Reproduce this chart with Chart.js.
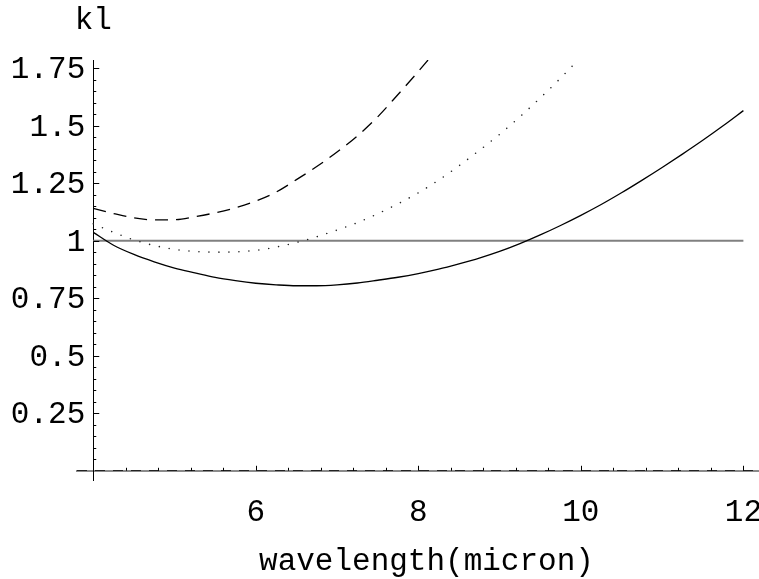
<!DOCTYPE html>
<html>
<head>
<meta charset="utf-8">
<script src="https://cdn.jsdelivr.net/npm/chart.js@4.4.1/dist/chart.umd.min.js"></script>
<style>
html, body { margin: 0; padding: 0; background: #ffffff; }
canvas { display: block; }
</style>
</head>
<body>
<canvas id="chart" width="759" height="579"></canvas>
<script>
// ---- data ----
const wavelength = [4.0, 4.25, 4.5, 4.75, 5.0, 5.25, 5.5, 5.75, 6.0, 6.25, 6.5, 6.75, 7.0, 7.25, 7.5, 7.75,
                    8.0, 8.25, 8.5, 8.75, 9.0, 9.25, 9.5, 9.75, 10.0, 10.25, 10.5, 10.75, 11.0, 11.25, 11.5, 11.75, 12.0];
const klSolid  = [1.036, 0.980, 0.940, 0.908, 0.881, 0.860, 0.840, 0.826, 0.815, 0.808, 0.804, 0.804, 0.808, 0.816, 0.828, 0.841,
                  0.857, 0.876, 0.899, 0.924, 0.953, 0.987, 1.025, 1.066, 1.110, 1.157, 1.208, 1.262, 1.318, 1.376, 1.436, 1.499, 1.565];
const klDashed = [1.140, 1.118, 1.099, 1.090, 1.091, 1.104, 1.121, 1.143, 1.172, 1.211, 1.265, 1.322, 1.385, 1.455, 1.538, 1.635,
                  1.735, 1.840];
const klDotted = [1.073, 1.036, 1.003, 0.979, 0.962, 0.953, 0.950, 0.951, 0.958, 0.972, 0.992, 1.017, 1.046, 1.078, 1.117, 1.160,
                  1.208, 1.263, 1.325, 1.392, 1.462, 1.538, 1.620, 1.706, 1.797];
const referenceWavelength = [4, 12];
const klReference = [1, 1];

const xTickValues = [6, 8, 10, 12];
const xTickLabels = ['6', '8', '10', '12'];
const yTickValues = [0, 0.25, 0.5, 0.75, 1, 1.25, 1.5, 1.75];
const yTickLabels = ['', '0.25', '0.5', '0.75', '1', '1.25', '1.5', '1.75'];
const xAxisTitle = 'wavelength(micron)';
const yAxisTitle = 'kl';

// ---- helpers ----
const toPoints = (xs, ys) => ys.map((y, i) => ({ x: xs[i], y: y }));
const FONT_FAMILY = '"Liberation Mono", "DejaVu Sans Mono", monospace';
const FONT_SIZE = 31;

// Plugin: inward minor/major tick marks (Mathematica style), y tick labels and axis titles.
const axisDecor = {
  id: 'axisDecor',
  afterDraw(chart) {
    const { ctx, chartArea } = chart;
    const xs = chart.scales.x, ys = chart.scales.y;
    const x0 = xs.getPixelForValue(4);
    const y0 = ys.getPixelForValue(0);
    ctx.save();
    ctx.strokeStyle = '#000';
    ctx.lineWidth = 1;
    ctx.beginPath();
    // y-axis ticks every 0.05, major every 0.25
    for (let k = 1; k * 0.05 <= ys.max + 1e-9; k++) {
      const py = Math.round(ys.getPixelForValue(k * 0.05)) + 0.5;
      const len = (k % 5 === 0) ? 6 : 3;
      ctx.moveTo(x0, py);
      ctx.lineTo(x0 + len, py);
    }
    // x-axis ticks every 0.4, major every 2
    for (let k = 1; 4 + k * 0.4 <= xs.max + 1e-9; k++) {
      const px = Math.round(xs.getPixelForValue(4 + k * 0.4)) + 0.5;
      const len = (k % 5 === 0) ? 5 : 3;
      ctx.moveTo(px, y0);
      ctx.lineTo(px, y0 - len);
    }
    ctx.stroke();

    ctx.fillStyle = '#000';
    ctx.font = FONT_SIZE + 'px ' + FONT_FAMILY;
    // y tick labels, right aligned left of the axis
    ctx.textAlign = 'right';
    ctx.textBaseline = 'middle';
    yTickValues.forEach((v, i) => {
      if (!yTickLabels[i]) return;
      ctx.fillText(yTickLabels[i], x0 - 8, ys.getPixelForValue(v) + 2);
    });
    // axis titles
    ctx.textAlign = 'center';
    ctx.textBaseline = 'alphabetic';
    ctx.fillText(yAxisTitle, x0, chartArea.top - 31);
    ctx.fillText(xAxisTitle, xs.getPixelForValue(8.1), y0 + 99);
    ctx.restore();
  }
};

new Chart(document.getElementById('chart'), {
  type: 'line',
  data: {
    datasets: [
      { label: 'solid', data: toPoints(wavelength, klSolid), borderColor: '#000', borderWidth: 1.3,
        pointRadius: 0, cubicInterpolationMode: 'monotone', fill: false },
      { label: 'dashed', data: toPoints(wavelength, klDashed), borderColor: '#000', borderWidth: 1.3,
        borderDash: [13, 8], pointRadius: 0, cubicInterpolationMode: 'monotone', fill: false },
      { label: 'dotted', data: toPoints(wavelength, klDotted), borderColor: '#222', borderWidth: 1.6,
        borderDash: [0, 10], borderCapStyle: 'round', pointRadius: 0, cubicInterpolationMode: 'monotone', fill: false },
      { label: 'reference', data: toPoints(referenceWavelength, klReference), borderColor: '#808080', borderWidth: 2,
        pointRadius: 0, fill: false }
    ]
  },
  options: {
    responsive: false,
    animation: false,
    devicePixelRatio: 1,
    layout: { padding: { left: 77, right: 0, top: 60, bottom: 99 } },
    plugins: { legend: { display: false }, tooltip: { enabled: false }, title: { display: false } },
    scales: {
      x: {
        type: 'linear',
        min: 3.8, max: 12.19,
        position: { y: 0 },
        afterBuildTicks: (scale) => { scale.ticks = xTickValues.map(v => ({ value: v })); },
        ticks: {
          autoSkip: false, maxRotation: 0, padding: -3, color: '#000',
          font: { family: FONT_FAMILY, size: FONT_SIZE },
          callback: (value) => xTickLabels[xTickValues.indexOf(value)]
        },
        grid: { display: true, drawOnChartArea: false, drawTicks: true, tickLength: 26,
                color: 'rgba(0,0,0,0)', tickColor: 'rgba(0,0,0,0)', z: -2 },
        border: { display: true, color: '#8a8a8a', width: 2, z: -2 }
      },
      y: {
        type: 'linear',
        min: -0.04, max: 1.785,
        position: { x: 4 },
        afterBuildTicks: (scale) => { scale.ticks = yTickValues.map(v => ({ value: v })); },
        ticks: { display: false },
        grid: {
          display: true, drawTicks: false, lineWidth: 1,
          color: (c) => (c.tick && c.tick.value === 0) ? '#222' : 'rgba(0,0,0,0)'
        },
        border: { display: true, color: '#000', width: 1, dash: [10, 8] }
      }
    }
  },
  plugins: [axisDecor]
});
</script>
</body>
</html>
